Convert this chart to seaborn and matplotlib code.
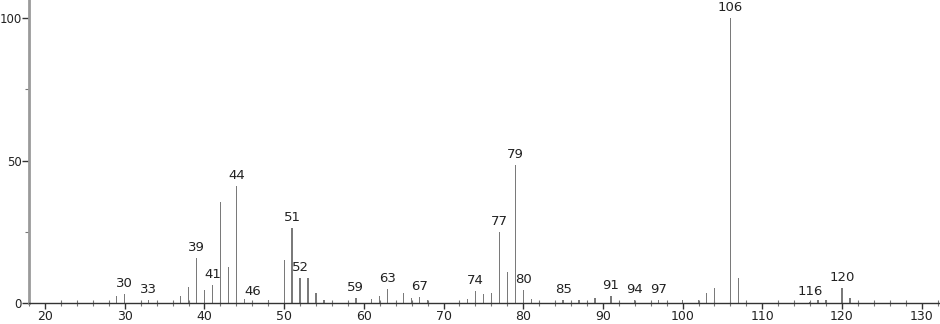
import matplotlib
matplotlib.use("Agg")
import matplotlib.pyplot as plt
import seaborn as sns
import pandas as pd
from matplotlib.ticker import MultipleLocator

# m/z values and relative intensities
mz = [29, 30, 33, 37, 38, 39, 40, 41, 42, 43, 44, 45, 46, 48,
      50, 51, 52, 53, 54, 55, 59, 61, 62, 63, 65, 66, 67, 68,
      73, 74, 75, 76, 77, 78, 79, 80, 81, 85, 87, 89, 91, 94, 97,
      100, 102, 103, 104, 106, 107, 116, 117, 118, 120, 121]
intensity = [2.4, 3.1, 0.8, 2.4, 5.4, 15.6, 4.3, 6.2, 35.4, 12.5, 40.9, 1.3, 0.4, 1.0,
             15.0, 26.2, 8.7, 8.6, 3.3, 0.9, 1.8, 1.2, 2.5, 4.8, 3.4, 1.6, 2.0, 0.9,
             1.4, 4.2, 3.1, 3.5, 25.0, 10.7, 48.4, 4.5, 1.2, 0.9, 0.8, 1.6, 2.2, 0.8, 0.8,
             1.0, 1.0, 3.4, 5.2, 100.0, 8.7, 0.4, 0.8, 1.0, 5.3, 1.6]
labelled_peaks = [30, 33, 39, 41, 44, 46, 51, 52, 59, 63, 67, 74, 77, 79, 80,
                  85, 91, 94, 97, 106, 116, 120]
x_ticks = [20, 30, 40, 50, 60, 70, 80, 90, 100, 110, 120, 130]
y_ticks = [0, 50, 100]

df = pd.DataFrame({"mz": mz, "intensity": intensity})

sns.set_theme(style="white")
plt.rcParams["font.family"] = ["DejaVu Sans"]

fig = plt.figure(figsize=(9.4, 3.24), dpi=100)
ax = fig.add_axes([0.031, 0.0657, 0.969, 0.934])

sns.barplot(data=df, x="mz", y="intensity", native_scale=True, width=0.16,
            color="#7a7a7a", saturation=1, linewidth=0, ax=ax)

lookup = dict(zip(mz, intensity))
for p in labelled_peaks:
    ax.text(p, lookup[p] + 1.4, str(p), ha="center", va="bottom",
            fontsize=9.5, color="#222222")

ax.set_xlim(18, 132.3)
ax.set_ylim(0, 106.4)
ax.set_xticks(x_ticks)
ax.set_yticks(y_ticks)
ax.xaxis.set_minor_locator(MultipleLocator(2))
ax.yaxis.set_minor_locator(MultipleLocator(25))
ax.set_xlabel("")
ax.set_ylabel("")

for s in ["top", "right"]:
    ax.spines[s].set_visible(False)
ax.spines["left"].set_color("#9a9a9a")
ax.spines["left"].set_linewidth(2)
ax.spines["bottom"].set_color("#333333")
ax.spines["bottom"].set_linewidth(1)

ax.tick_params(axis="x", which="major", direction="out", length=4, width=1,
               color="#333333", labelsize=9, pad=1, labelcolor="#222222", bottom=True)
ax.tick_params(axis="x", which="minor", direction="inout", length=4, width=0.8,
               color="#777777", bottom=True)
ax.tick_params(axis="y", which="major", direction="out", length=5, width=1,
               color="#333333", labelsize=8.5, pad=0.5, labelcolor="#222222", left=True)
ax.tick_params(axis="y", which="minor", direction="out", length=3, width=0.8,
               color="#777777", left=True)
ax.grid(False)

fig.savefig("out.png", dpi=100)
